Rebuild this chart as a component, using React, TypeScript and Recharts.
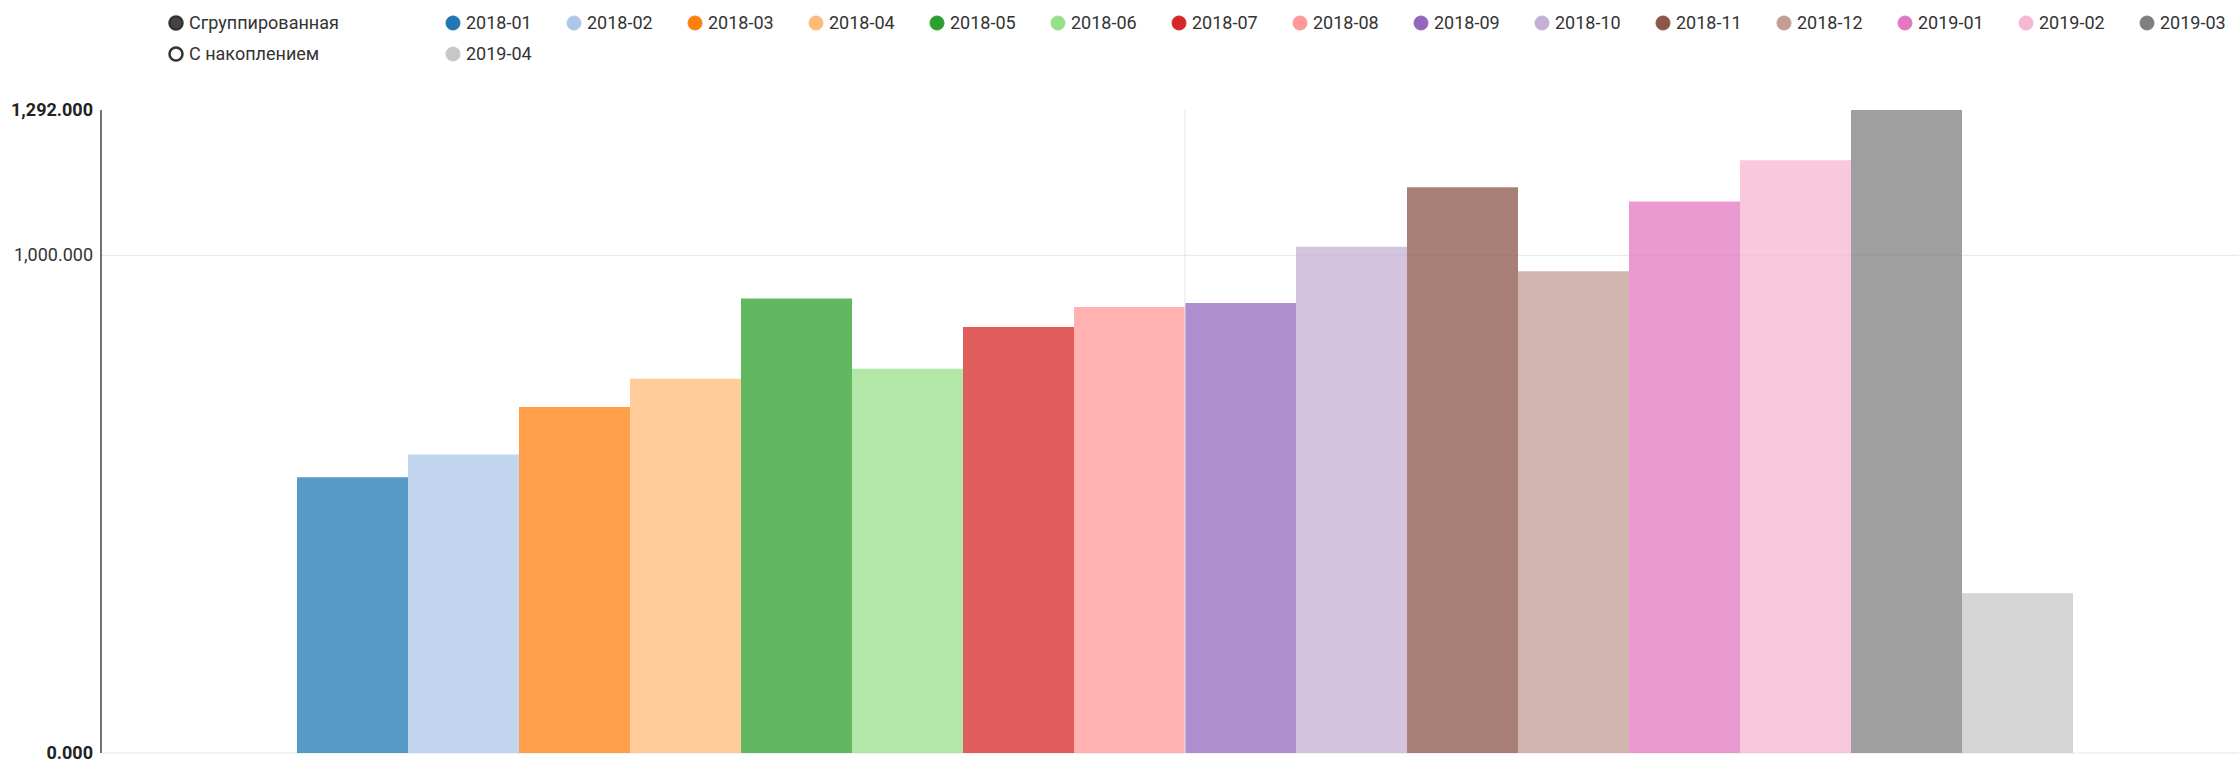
import { BarChart, Bar, XAxis, YAxis, CartesianGrid, ReferenceLine } from "recharts";

const months = [
  "2018-01", "2018-02", "2018-03", "2018-04", "2018-05", "2018-06", "2018-07", "2018-08",
  "2018-09", "2018-10", "2018-11", "2018-12", "2019-01", "2019-02", "2019-03", "2019-04",
];
const values = [554, 600, 695, 752, 913, 772, 856, 896, 904, 1017, 1137, 968, 1108, 1191, 1292, 321];
const colors = [
  "#1f77b4", "#aec7e8", "#ff7f0e", "#ffbb78", "#2ca02c", "#98df8a", "#d62728", "#ff9896",
  "#9467bd", "#c5b0d5", "#8c564b", "#c49c94", "#e377c2", "#f7b6d2", "#7f7f7f", "#c7c7c7",
];
const yTicks = [0, 1000, 1292];
const controls = ["Сгруппированная", "С накоплением"];

const row: Record<string, number | string> = { group: "all" };
months.forEach((m, i) => {
  row[m] = values[i];
});
const data = [row];

const W = 2239;
const H = 762;
const FONT = "Roboto, 'Noto Sans', sans-serif";

const fmt = (v: number) =>
  v.toLocaleString("en-US", { minimumFractionDigits: 3, maximumFractionDigits: 3 });

function YTick({ x, y, payload }: any) {
  const v = payload.value as number;
  const edge = v === yTicks[0] || v === yTicks[yTicks.length - 1];
  return (
    <text
      x={x}
      y={y}
      dy={6}
      textAnchor="end"
      fontFamily={FONT}
      fontSize={18}
      fontWeight={edge ? 700 : 400}
      fill={edge ? "#222" : "#333"}
    >
      {fmt(v)}
    </text>
  );
}

// legend: left = grouped/stacked switch, right = series in rows of 15
function Legend() {
  const rowY = [23, 54];
  const perRow = 15;
  return (
    <svg width={W} height={70} style={{ position: "absolute", left: 0, top: 0 }}>
      {controls.map((c, i) => (
        <g key={c}>
          <circle
            cx={176}
            cy={rowY[i]}
            r={6.5}
            fill={i === 0 ? "#444" : "#fff"}
            stroke="#333"
            strokeWidth={2.5}
          />
          <text x={189} y={rowY[i]} dy={6} fontFamily={FONT} fontSize={18} fill="#333">
            {c}
          </text>
        </g>
      ))}
      {months.map((m, i) => {
        const cx = 453 + (i % perRow) * 121;
        const cy = rowY[Math.floor(i / perRow)];
        return (
          <g key={m}>
            <circle cx={cx} cy={cy} r={7} fill={colors[i]} stroke={colors[i]} strokeWidth={1} />
            <text x={cx + 13} y={cy} dy={6} fontFamily={FONT} fontSize={18} fill="#333">
              {m}
            </text>
          </g>
        );
      })}
    </svg>
  );
}

export default function App() {
  return (
    <div style={{ position: "absolute", left: 0, top: 0, width: W, height: H, background: "#fff" }}>
      <Legend />
      <div style={{ position: "absolute", left: 0, top: 0 }}>
        <BarChart
          width={W}
          height={H}
          data={data}
          margin={{ top: 110, right: 0, bottom: 9, left: 0 }}
          barGap={0}
          barCategoryGap={166}
        >
          <CartesianGrid stroke="#e6e6e6" vertical={false} horizontalValues={[0, 1000]} />
          <XAxis
            dataKey="group"
            tick={false}
            tickLine={false}
            axisLine={false}
            height={0}
            padding={{ left: 30, right: 0 }}
          />
          <YAxis
            width={101}
            domain={[0, 1292]}
            ticks={yTicks}
            interval={0}
            tickLine={false}
            axisLine={{ stroke: "#444", strokeWidth: 1.5 }}
            tick={<YTick />}
          />
          <ReferenceLine x="all" stroke="#e6e6e6" />
          {months.map((m, i) => (
            <Bar key={m} dataKey={m} fill={colors[i]} fillOpacity={0.75} isAnimationActive={false} />
          ))}
        </BarChart>
      </div>
    </div>
  );
}
